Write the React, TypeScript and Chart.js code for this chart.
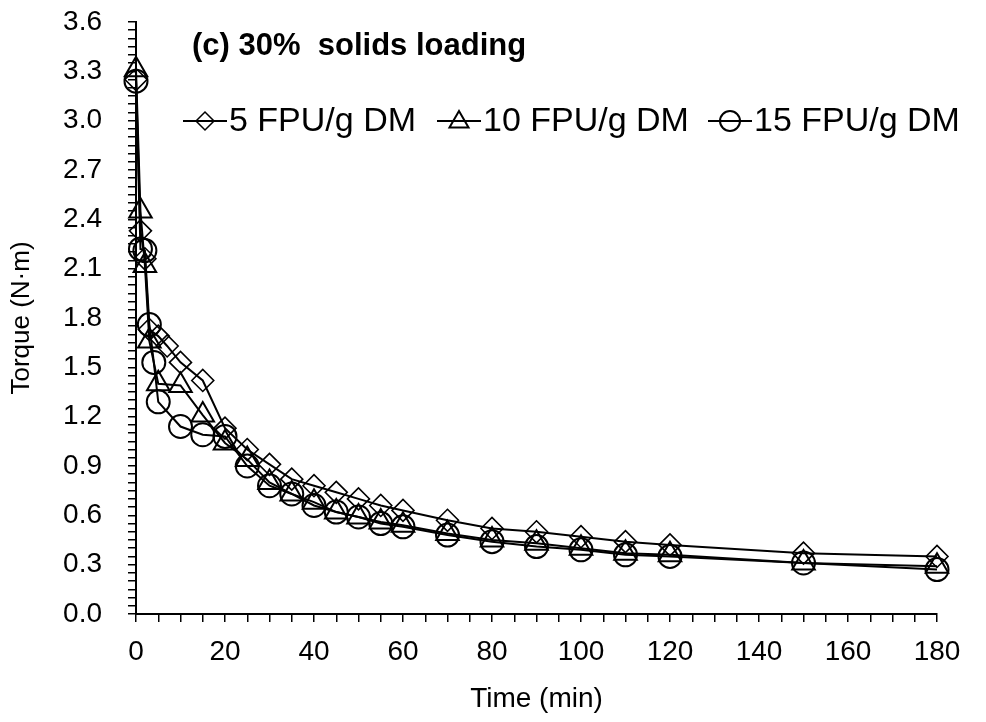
import React, { useEffect, useRef } from 'react';
import { Chart, registerables } from 'chart.js';

Chart.register(...registerables);

const FONT = '"Liberation Sans", Arial, Helvetica, sans-serif';

// ---- data ----
const chartTitle = '(c) 30%  solids loading';
const xAxisTitle = 'Time (min)';
const yAxisTitle = 'Torque (N\u00b7m)';
const seriesNames = ['5 FPU/g DM', '10 FPU/g DM', '15 FPU/g DM'];

const time5 = [0, 1, 2, 3, 5, 7, 10, 15, 20, 25, 30, 35, 40, 45, 50, 55, 60, 70, 80, 90, 100, 110, 120, 150, 180];
const torque5 = [3.25, 2.33, 2.16, 1.73, 1.69, 1.63, 1.53, 1.42, 1.13, 1.0, 0.91, 0.82, 0.78, 0.74, 0.7, 0.66, 0.63, 0.57, 0.52, 0.5, 0.47, 0.44, 0.42, 0.37, 0.35];

const time10 = [0, 1, 2, 3, 5, 10, 15, 20, 25, 30, 35, 40, 45, 50, 55, 60, 70, 80, 90, 100, 110, 120, 150, 180];
const torque10 = [3.31, 2.45, 2.12, 1.66, 1.4, 1.39, 1.21, 1.04, 0.94, 0.8, 0.73, 0.68, 0.62, 0.59, 0.56, 0.54, 0.49, 0.45, 0.43, 0.4, 0.37, 0.36, 0.31, 0.29];

const time15 = [0, 1, 2, 3, 4, 5, 10, 15, 20, 25, 30, 35, 40, 45, 50, 55, 60, 70, 80, 90, 100, 110, 120, 150, 180];
const torque15 = [3.24, 2.22, 2.21, 1.76, 1.53, 1.29, 1.14, 1.09, 1.08, 0.9, 0.78, 0.73, 0.66, 0.62, 0.59, 0.55, 0.53, 0.48, 0.44, 0.41, 0.39, 0.36, 0.35, 0.31, 0.27];

const xTickLabels = ['0', '20', '40', '60', '80', '100', '120', '140', '160', '180'];
const yTickLabels = ['0.0', '0.3', '0.6', '0.9', '1.2', '1.5', '1.8', '2.1', '2.4', '2.7', '3.0', '3.3', '3.6'];

const pointStyles = ['rectRot', 'triangle', 'circle'];
const pointRadii = [11, 13, 11.5];

const toXY = (t: number[], v: number[]) => t.map((x, i) => ({ x, y: v[i] }));

function drawMarker(ctx: CanvasRenderingContext2D, style: string, x: number, y: number, r: number) {
  ctx.beginPath();
  if (style === 'rectRot') {
    ctx.moveTo(x - r, y);
    ctx.lineTo(x, y - r);
    ctx.lineTo(x + r, y);
    ctx.lineTo(x, y + r);
    ctx.closePath();
  } else if (style === 'triangle') {
    for (let k = 0; k < 3; k++) {
      const a = (k * 2 * Math.PI) / 3;
      const px = x + Math.sin(a) * r;
      const py = y - Math.cos(a) * r;
      if (k === 0) ctx.moveTo(px, py);
      else ctx.lineTo(px, py);
    }
    ctx.closePath();
  } else {
    ctx.arc(x, y, r, 0, Math.PI * 2);
  }
  ctx.stroke();
}

const overlayPlugin = {
  id: 'overlay',
  afterDraw(chart: any) {
    const ctx: CanvasRenderingContext2D = chart.ctx;
    ctx.save();
    ctx.fillStyle = '#000';
    ctx.strokeStyle = '#000';
    ctx.textBaseline = 'middle';
    ctx.textAlign = 'left';
    ctx.font = `bold 31px ${FONT}`;
    ctx.fillText(chartTitle, 192, 46);

    const starts = [183, 437, 708];
    const legendY = 121;
    const lineLen = 44;
    ctx.font = `34px ${FONT}`;
    seriesNames.forEach((name, i) => {
      const x0 = starts[i];
      ctx.lineWidth = 2;
      ctx.beginPath();
      ctx.moveTo(x0, legendY);
      ctx.lineTo(x0 + lineLen, legendY);
      ctx.stroke();
      ctx.lineWidth = i === 0 ? 1.5 : 2;
      const r = i === 0 ? 9 : i === 1 ? 11 : 10;
      drawMarker(ctx, pointStyles[i], x0 + lineLen / 2, legendY + (i === 1 ? 1 : 0), r);
      ctx.fillText(name, x0 + lineLen + 2, legendY + 1);
    });
    ctx.restore();
  },
};

export default function App() {
  const canvasRef = useRef<HTMLCanvasElement | null>(null);

  useEffect(() => {
    document.body.style.margin = '0';
    const canvas = canvasRef.current;
    if (!canvas) return;

    const series = [toXY(time5, torque5), toXY(time10, torque10), toXY(time15, torque15)];

    const chart = new Chart(canvas, {
      type: 'line',
      data: {
        datasets: series.map((d, i) => ({
          label: seriesNames[i],
          data: d,
          borderColor: '#000',
          backgroundColor: 'rgba(0,0,0,0)',
          borderWidth: 2,
          pointStyle: pointStyles[i] as any,
          pointRadius: pointRadii[i],
          pointBorderWidth: i === 0 ? 1.6 : 2,
          pointBorderColor: '#000',
          pointBackgroundColor: 'rgba(0,0,0,0)',
          tension: 0,
          fill: false,
          clip: false as any,
        })),
      },
      options: {
        animation: false,
        responsive: false,
        devicePixelRatio: 1,
        layout: { padding: { top: 22, right: 49, left: 0, bottom: 0 } },
        plugins: {
          legend: { display: false },
          title: { display: false },
          tooltip: { enabled: false },
        },
        scales: {
          x: {
            type: 'linear',
            min: 0,
            max: 180,
            afterFit: (scale: any) => {
              scale.height = 108;
            },
            grid: {
              display: true,
              drawOnChartArea: false,
              drawTicks: true,
              tickLength: 8,
              color: '#000',
              lineWidth: 1.5,
            },
            border: { display: true, color: '#000', width: 2 },
            ticks: {
              stepSize: 5,
              autoSkip: false,
              maxTicksLimit: 1000,
              maxRotation: 0,
              minRotation: 0,
              padding: 13,
              color: '#000',
              font: { family: FONT, size: 28 },
              callback: (value: any) => {
                const v = Number(value);
                if (Math.round(v) % 20 !== 0) return '';
                return xTickLabels[Math.round(v) / 20] ?? '';
              },
            },
            title: {
              display: true,
              text: xAxisTitle,
              color: '#000',
              font: { family: FONT, size: 28 },
              padding: { top: 0, bottom: 6 },
            },
          },
          y: {
            type: 'linear',
            min: 0,
            max: 3.6,
            afterFit: (scale: any) => {
              scale.width = 136;
              scale.paddingTop = 0;
              scale.paddingBottom = 0;
            },
            grid: {
              display: true,
              drawOnChartArea: false,
              drawTicks: true,
              tickLength: 8,
              color: '#000',
              lineWidth: 1.5,
            },
            border: { display: true, color: '#000', width: 2 },
            ticks: {
              stepSize: 0.05,
              autoSkip: false,
              maxTicksLimit: 1000,
              padding: 26,
              color: '#000',
              font: { family: FONT, size: 28 },
              callback: (value: any) => {
                const c = Math.round(Number(value) * 100);
                if (c % 30 !== 0) return '';
                return yTickLabels[c / 30] ?? '';
              },
            },
            title: {
              display: true,
              text: yAxisTitle,
              color: '#000',
              font: { family: FONT, size: 26 },
              padding: { top: 6, bottom: 0 },
            },
          },
        },
      },
      plugins: [overlayPlugin],
    });

    return () => {
      chart.destroy();
    };
  }, []);

  return (
    <div style={{ width: 986, height: 722, background: '#fff' }}>
      <canvas ref={canvasRef} width={986} height={722} style={{ display: 'block', width: 986, height: 722 }} />
    </div>
  );
}
